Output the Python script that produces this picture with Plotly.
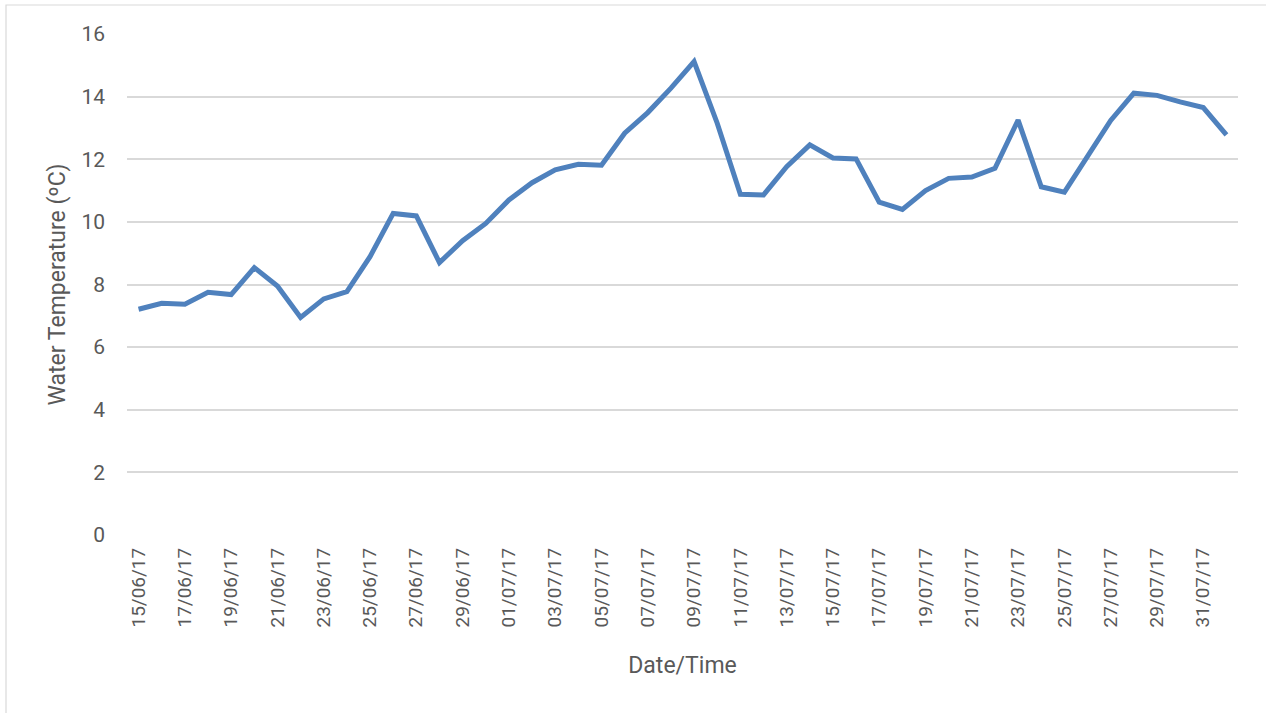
import pandas as pd
import plotly.graph_objects as go

# Daily water temperature, 15 June – 1 August 2017
dates = pd.date_range("2017-06-15", "2017-08-01", freq="D")
temps = [
    7.21, 7.40, 7.37, 7.75, 7.68, 8.54, 7.95, 6.95, 7.54, 7.77,
    8.89, 10.27, 10.19, 8.70, 9.40, 9.95, 10.70, 11.25, 11.66, 11.84,
    11.81, 12.83, 13.49, 14.27, 15.12, 13.15, 10.88, 10.86, 11.76, 12.46,
    12.04, 12.01, 10.63, 10.40, 11.00, 11.39, 11.43, 11.71, 13.25, 11.12,
    10.95, 12.10, 13.24, 14.11, 14.04, 13.83, 13.65, 12.78,
]
y_ticks = [0, 2, 4, 6, 8, 10, 12, 14, 16]

FONT = "Roboto, sans-serif"
TEXT = "#595959"
GRID = "#d9d9d9"

fig = go.Figure(
    go.Scatter(
        x=dates,
        y=temps,
        mode="lines",
        line=dict(color="#4f81bd", width=5),
        showlegend=False,
    )
)

half_day = pd.Timedelta(hours=12)
fig.update_xaxes(
    range=[dates[0] - half_day, dates[-1] + half_day],
    tickmode="linear",
    tick0=dates[0],
    dtick=2 * 24 * 3600 * 1000,
    tickformat="%d/%m/%y",
    tickangle=-90,
    tickfont=dict(family=FONT, size=19, color=TEXT),
    ticklabelstandoff=8,
    showgrid=False,
    zeroline=False,
    showline=False,
    title=dict(text="Date/Time", font=dict(family=FONT, size=23, color=TEXT), standoff=30),
)
fig.update_yaxes(
    range=[0, 16],
    tickvals=y_ticks,
    tickfont=dict(family=FONT, size=21, color=TEXT),
    ticklabelstandoff=21,
    showgrid=True,
    gridcolor=GRID,
    gridwidth=1.5,
    zeroline=False,
    showline=False,
    title=dict(text="Water Temperature (ºC)", font=dict(family=FONT, size=23, color=TEXT), standoff=9),
)

# Light frame around the chart area
fig.add_shape(
    type="rect", xref="paper", yref="paper",
    x0=-0.1089, x1=1.05, y0=-0.5, y1=1.0579,
    line=dict(color=GRID, width=1.2), fillcolor="rgba(0,0,0,0)", layer="below",
)

fig.update_layout(
    width=1266,
    height=713,
    margin=dict(l=127, r=28, t=34, b=178),
    plot_bgcolor="white",
    paper_bgcolor="white",
)

fig.write_html("out.html")
